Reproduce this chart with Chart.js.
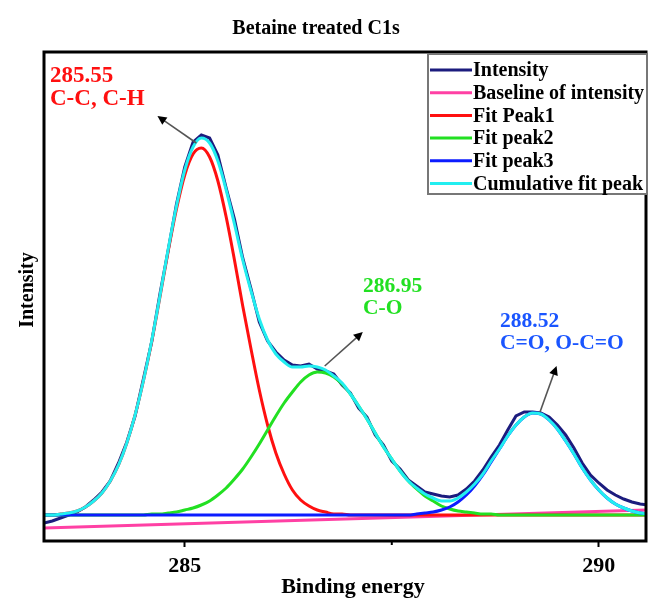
<!DOCTYPE html>
<html>
<head>
<meta charset="utf-8">
<title>Betaine treated C1s</title>
<script src="https://cdn.jsdelivr.net/npm/chart.js@4.4.1/dist/chart.umd.min.js"></script>
<style>
  html, body { margin: 0; padding: 0; background: #fff; }
  #wrap { width: 652px; height: 605px; }
</style>
</head>
<body>
<div id="wrap"><canvas id="xps" width="652" height="605"></canvas></div>
<script>
'use strict';

/* ── Data (binding energy in eV, intensity in arbitrary units) ── */
const energy = [
  283.3, 283.4, 283.5, 283.6, 283.7, 283.8, 283.9, 284.0, 284.1, 284.2,
  284.3, 284.4, 284.5, 284.6, 284.7, 284.8, 284.9, 285.0, 285.1, 285.2,
  285.3, 285.4, 285.5, 285.6, 285.7, 285.8, 285.9, 286.0, 286.1, 286.2,
  286.3, 286.4, 286.5, 286.6, 286.7, 286.8, 286.9, 287.0, 287.1, 287.2,
  287.3, 287.4, 287.5, 287.6, 287.7, 287.8, 287.9, 288.0, 288.1, 288.2,
  288.3, 288.4, 288.5, 288.6, 288.7, 288.8, 288.9, 289.0, 289.1, 289.2,
  289.3, 289.4, 289.5, 289.6, 289.7, 289.8, 289.9, 290.0, 290.1, 290.2,
  290.3, 290.4, 290.5, 290.6
];

const intensity = [
  18, 20, 23, 26, 29, 34, 41, 49, 60, 78,
  99, 125, 162, 199, 247, 291, 337, 374, 399, 406,
  403, 386, 353, 322, 283, 252, 219, 200, 189, 181,
  176, 175, 177, 172, 170, 167, 156, 148, 133, 124,
  106, 96, 80, 72, 61, 55, 49, 47, 45, 44,
  46, 52, 60, 71, 84, 96, 111, 125, 129, 129,
  128, 124, 116, 106, 93, 78, 66, 58, 51, 46,
  42, 39, 37, 36
];

const baselineEnergy = [283.3, 290.6];
const baselineValues = [13, 31];

const peak1 = [
  26, 26, 27, 28, 30, 34, 40, 48, 60, 76,
  98, 126, 160, 199, 244, 290, 332, 366, 387, 393,
  384, 360, 324, 281, 235, 192, 151, 116, 88, 67,
  51, 41, 35, 31, 29, 27, 27, 26, 26, 26,
  26, 26, 26, 26, 26, 26, 26, 26, 26, 26,
  26, 26, 26, 26, 26, 26, 26, 26, 26, 26,
  26, 26, 26, 26, 26, 26, 26, 26, 26, 26,
  26, 26, 26, 26
];

const peak2 = [
  26, 26, 26, 26, 26, 26, 26, 26, 26, 26,
  26, 26, 26, 27, 27, 28, 29, 31, 33, 36,
  40, 46, 53, 62, 72, 84, 97, 111, 125, 138,
  149, 159, 166, 169, 168, 164, 157, 147, 135, 122,
  108, 94, 82, 70, 60, 52, 45, 40, 35, 32,
  30, 29, 28, 27, 27, 26, 26, 26, 26, 26,
  26, 26, 26, 26, 26, 26, 26, 26, 26, 26,
  26, 26, 26, 26
];

const peak3 = [
  26, 26, 26, 26, 26, 26, 26, 26, 26, 26,
  26, 26, 26, 26, 26, 26, 26, 26, 26, 26,
  26, 26, 26, 26, 26, 26, 26, 26, 26, 26,
  26, 26, 26, 26, 26, 26, 26, 26, 26, 26,
  26, 26, 26, 26, 26, 27, 28, 29, 31, 34,
  39, 46, 55, 66, 79, 92, 105, 116, 124, 128,
  127, 121, 112, 100, 87, 73, 61, 51, 43, 37,
  33, 30, 28, 27
];

const cumulative = [
  26, 26, 27, 28, 30, 34, 40, 48, 60, 76,
  98, 126, 160, 200, 245, 292, 335, 371, 394, 403,
  398, 380, 351, 317, 281, 250, 222, 201, 187, 179,
  174, 174, 175, 174, 171, 165, 158, 147, 135, 122,
  108, 94, 82, 70, 60, 53, 47, 43, 40, 40,
  43, 49, 57, 67, 80, 92, 105, 116, 124, 128,
  127, 121, 112, 100, 87, 73, 61, 51, 43, 37,
  33, 30, 28, 27
];

const seriesNames  = ['Intensity', 'Baseline of intensity', 'Fit Peak1', 'Fit peak2', 'Fit peak3', 'Cumulative fit peak'];
const seriesColors = ['#1c1c7e', '#ff40a4', '#ff1010', '#22e022', '#0c1cff', '#22eef0'];

const xTicks = [285, 290];
const xMinorTicks = [287.5];

const chartTitle = 'Betaine treated C1s';
const xTitle = 'Binding energy';
const yTitle = 'Intensity';

// peak annotations: label lines, label colour, arrow tail/head (energy, intensity)
const peakLabels  = [['285.55', 'C-C, C-H'], ['286.95', 'C-O'], ['288.52', 'C=O, O-C=O']];
const labelColors = ['#ff1010', '#22e022', '#1a55ff'];
const arrowTail   = [[285.14, 398], [286.69, 175], [289.29, 129]];
const arrowHead   = [[284.67, 425], [287.15, 209], [289.49, 175]];

/* ── Helpers ─────────────────────────────────────────── */
const SERIF = '"Liberation Serif", "Times New Roman", serif';
const pts = (xs, ys) => xs.map((x, i) => ({ x: x, y: ys[i] }));

function line(label, data, color, order, smooth) {
  return {
    label: label,
    data: data,
    borderColor: color,
    backgroundColor: color,
    borderWidth: 3,
    pointRadius: 0,
    fill: false,
    order: order,
    cubicInterpolationMode: smooth ? 'monotone' : 'default',
    tension: 0
  };
}

function drawArrow(ctx, x1, y1, x2, y2) {
  const ang = Math.atan2(y2 - y1, x2 - x1);
  const len = 9, wid = 4.5;
  ctx.save();
  ctx.strokeStyle = '#555';
  ctx.lineWidth = 1.6;
  ctx.beginPath();
  ctx.moveTo(x1, y1);
  ctx.lineTo(x2 - Math.cos(ang) * len * 0.8, y2 - Math.sin(ang) * len * 0.8);
  ctx.stroke();
  ctx.fillStyle = '#000';
  ctx.beginPath();
  ctx.moveTo(x2, y2);
  ctx.lineTo(x2 - Math.cos(ang) * len + Math.sin(ang) * wid, y2 - Math.sin(ang) * len - Math.cos(ang) * wid);
  ctx.lineTo(x2 - Math.cos(ang) * len - Math.sin(ang) * wid, y2 - Math.sin(ang) * len + Math.cos(ang) * wid);
  ctx.closePath();
  ctx.fill();
  ctx.restore();
}

/* ── Decorations: frame, titles, annotations, legend ─── */
const decor = {
  id: 'decor',
  afterDraw(chart) {
    const { ctx, chartArea: a, scales: { x, y } } = chart;
    ctx.save();

    // plot frame
    ctx.strokeStyle = '#000';
    ctx.lineWidth = 3;
    ctx.strokeRect(a.left, a.top, a.right - a.left, a.bottom - a.top);

    // minor tick
    ctx.lineWidth = 2;
    xMinorTicks.forEach(v => {
      const px = x.getPixelForValue(v);
      ctx.beginPath();
      ctx.moveTo(px, a.bottom);
      ctx.lineTo(px, a.bottom + 4);
      ctx.stroke();
    });

    // chart title
    ctx.fillStyle = '#000';
    ctx.textAlign = 'center';
    ctx.textBaseline = 'alphabetic';
    ctx.font = 'bold 20px ' + SERIF;
    ctx.fillText(chartTitle, 316, 34);

    // axis titles
    ctx.font = 'bold 22px ' + SERIF;
    ctx.fillText(xTitle, 353, 593);
    ctx.save();
    ctx.translate(33, 290);
    ctx.rotate(-Math.PI / 2);
    ctx.font = 'bold 20px ' + SERIF;
    ctx.fillText(yTitle, 0, 0);
    ctx.restore();

    // peak labels and arrows
    const labelPos  = [[50, 82], [363, 292], [500, 327]];
    const labelSize = [23, 21.5, 21.5];
    const lineGap   = [23, 22, 22];
    ctx.textAlign = 'left';
    peakLabels.forEach((lines, i) => {
      ctx.fillStyle = labelColors[i];
      ctx.font = 'bold ' + labelSize[i] + 'px ' + SERIF;
      lines.forEach((t, j) => ctx.fillText(t, labelPos[i][0], labelPos[i][1] + j * lineGap[i]));
      drawArrow(ctx,
        x.getPixelForValue(arrowTail[i][0]), y.getPixelForValue(arrowTail[i][1]),
        x.getPixelForValue(arrowHead[i][0]), y.getPixelForValue(arrowHead[i][1]));
    });

    // legend
    const lx = 428, ly = 54, lw = 219, lh = 140;
    ctx.fillStyle = '#fff';
    ctx.fillRect(lx, ly, lw, lh);
    ctx.strokeStyle = '#777';
    ctx.lineWidth = 2;
    ctx.strokeRect(lx, ly, lw, lh);
    ctx.font = 'bold 20px ' + SERIF;
    ctx.textBaseline = 'middle';
    chart.data.datasets.forEach((ds, i) => {
      const yy = 70 + i * 22.7;
      ctx.strokeStyle = ds.borderColor;
      ctx.lineWidth = 3;
      ctx.beginPath();
      ctx.moveTo(430, yy);
      ctx.lineTo(472, yy);
      ctx.stroke();
      ctx.fillStyle = '#000';
      ctx.fillText(ds.label, 473, yy + 1);
    });

    ctx.restore();
  }
};

/* ── Chart ───────────────────────────────────────────── */
new Chart(document.getElementById('xps'), {
  type: 'line',
  data: {
    datasets: [
      line(seriesNames[0], pts(energy, intensity), seriesColors[0], 5, false),
      line(seriesNames[1], pts(baselineEnergy, baselineValues), seriesColors[1], 4, false),
      line(seriesNames[2], pts(energy, peak1), seriesColors[2], 3, true),
      line(seriesNames[3], pts(energy, peak2), seriesColors[3], 2, true),
      line(seriesNames[4], pts(energy, peak3), seriesColors[4], 1, true),
      line(seriesNames[5], pts(energy, cumulative), seriesColors[5], 0, true)
    ]
  },
  options: {
    responsive: false,
    devicePixelRatio: 1,
    animation: false,
    layout: { padding: { top: 52, right: 6, bottom: 0, left: 0 } },
    plugins: { legend: { display: false }, tooltip: { enabled: false } },
    scales: {
      x: {
        type: 'linear',
        min: 283.3,
        max: 290.57,
        afterBuildTicks: s => { s.ticks = xTicks.map(v => ({ value: v })); },
        afterFit: s => { s.height = 64; },
        border: { display: false },
        grid: { display: true, drawOnChartArea: false, drawTicks: true, tickLength: 6, tickWidth: 2, tickColor: '#000' },
        ticks: {
          color: '#000',
          padding: 6,
          maxRotation: 0,
          autoSkip: false,
          font: { family: SERIF, size: 22, weight: 'bold' }
        }
      },
      y: {
        type: 'linear',
        min: 0,
        max: 489,
        afterFit: s => { s.width = 44; },
        border: { display: false },
        grid: { display: false },
        ticks: { display: false }
      }
    }
  },
  plugins: [decor]
});
</script>
</body>
</html>
